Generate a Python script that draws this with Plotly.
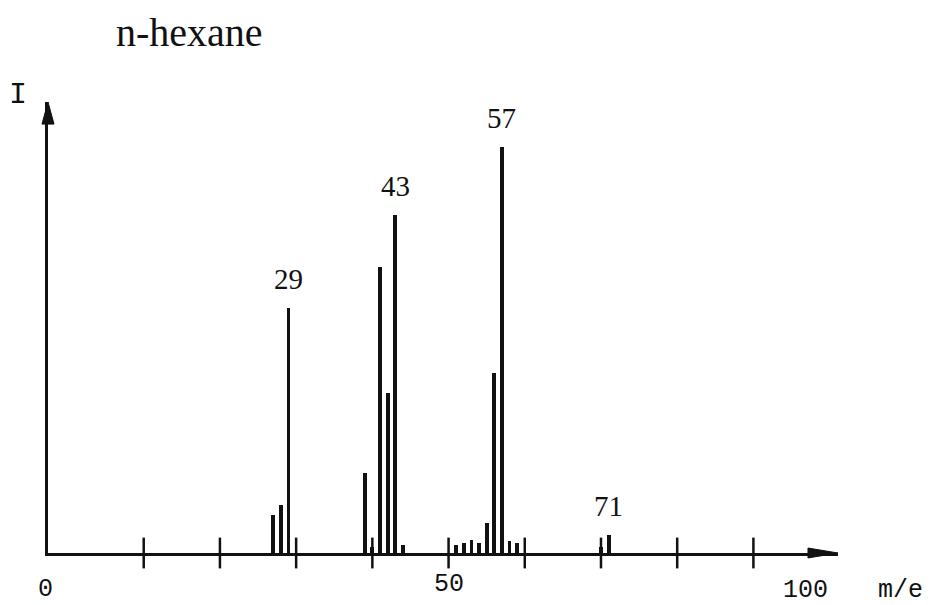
import plotly.graph_objects as go

# ---- data (relative intensity, base peak m/e 57 = 100) ----
mz = [27, 28, 29, 39, 40, 41, 42, 43, 44, 51, 52, 53, 54, 55, 56, 57, 58, 59, 70, 71]
intensity = [9.4, 11.8, 60.3, 19.7, 1.5, 70.4, 39.4, 83.3, 2.0,
             2.0, 2.5, 3.2, 2.5, 7.4, 44.3, 100.0, 3.0, 2.5, 1.5, 4.4]
labelled_peaks = [29, 43, 57, 71]
tick_positions = [10, 20, 30, 40, 50, 60, 70, 80, 90]
axis_labels = ["0", "50", "100"]
title_text = "n-hexane"
x_title = "m/e"
y_title = "I"

x_range = [-2.56, 101.1]
y_range = [0, 111.1]

SERIF = "Liberation Serif, Times New Roman, serif"
MONO = "Liberation Mono, Courier New, monospace"
INK = "#111111"

fig = go.Figure()

# peaks
fig.add_trace(go.Bar(
    x=mz, y=intensity, width=0.5,
    marker=dict(color=INK, line=dict(width=0)),
    showlegend=False, hoverinfo="x+y",
))

# crossing tick marks on the m/e axis
fig.add_trace(go.Scatter(
    x=tick_positions, y=[0] * len(tick_positions), mode="markers",
    marker=dict(symbol="line-ns", size=22, line=dict(width=2.5, color=INK)),
    cliponaxis=False, showlegend=False, hoverinfo="skip",
))

annotations = []
# peak labels
lookup = dict(zip(mz, intensity))
for m in labelled_peaks:
    annotations.append(dict(
        x=m, y=lookup[m], xref="x", yref="y", text=str(m), showarrow=False,
        yanchor="middle", yshift=29, font=dict(family=SERIF, size=29, color=INK),
    ))

# axis number labels
annotations.append(dict(x=0, y=0, xref="paper", yref="paper", text=axis_labels[0],
                        showarrow=False, xanchor="center", yanchor="middle", yshift=-36,
                        xshift=-3, font=dict(family=MONO, size=25, color=INK)))
annotations.append(dict(x=50, y=0, xref="x", yref="paper", text=axis_labels[1],
                        showarrow=False, xanchor="center", yanchor="middle", yshift=-31,
                        font=dict(family=MONO, size=25, color=INK)))
annotations.append(dict(x=100, y=0, xref="x", yref="paper", text=axis_labels[2],
                        showarrow=False, xanchor="right", yanchor="middle", yshift=-37,
                        font=dict(family=MONO, size=25, color=INK)))
annotations.append(dict(x=1.0785, y=0, xref="paper", yref="paper", text=x_title,
                        showarrow=False, xanchor="center", yanchor="middle", yshift=-37,
                        font=dict(family=MONO, size=25, color=INK)))
annotations.append(dict(x=-0.038, y=1.0155, xref="paper", yref="paper", text=y_title,
                        showarrow=False, xanchor="center", yanchor="middle",
                        font=dict(family=MONO, size=30, color=INK)))
annotations.append(dict(x=0.1797, y=1.155, xref="paper", yref="paper", text=title_text,
                        showarrow=False, xanchor="center", yanchor="middle",
                        font=dict(family=SERIF, size=40, color=INK)))

# arrowheads on the axes (paper coordinates)
shapes = [
    dict(type="path", xref="paper", yref="paper",
         path="M 1.0 0 L 0.962 0.011 L 0.962 -0.011 Z",
         fillcolor=INK, line=dict(color=INK, width=1)),
    dict(type="path", xref="paper", yref="paper",
         path="M 0 1.0 L -0.0076 0.951 L 0.0076 0.951 Z",
         fillcolor=INK, line=dict(color=INK, width=1)),
]

# the page body has an 8px default margin, so the figure is 8px smaller
fig.update_layout(
    width=923, height=597,
    margin=dict(l=40, r=93, t=94, b=52),
    paper_bgcolor="white", plot_bgcolor="white",
    bargap=0, showlegend=False,
    annotations=annotations, shapes=shapes,
    xaxis=dict(range=x_range, showline=True, linewidth=3, linecolor=INK,
               showgrid=False, zeroline=False, ticks="", showticklabels=False,
               fixedrange=True),
    yaxis=dict(range=y_range, showline=True, linewidth=3, linecolor=INK,
               showgrid=False, zeroline=False, ticks="", showticklabels=False,
               fixedrange=True),
)

fig.write_html("out.html")
